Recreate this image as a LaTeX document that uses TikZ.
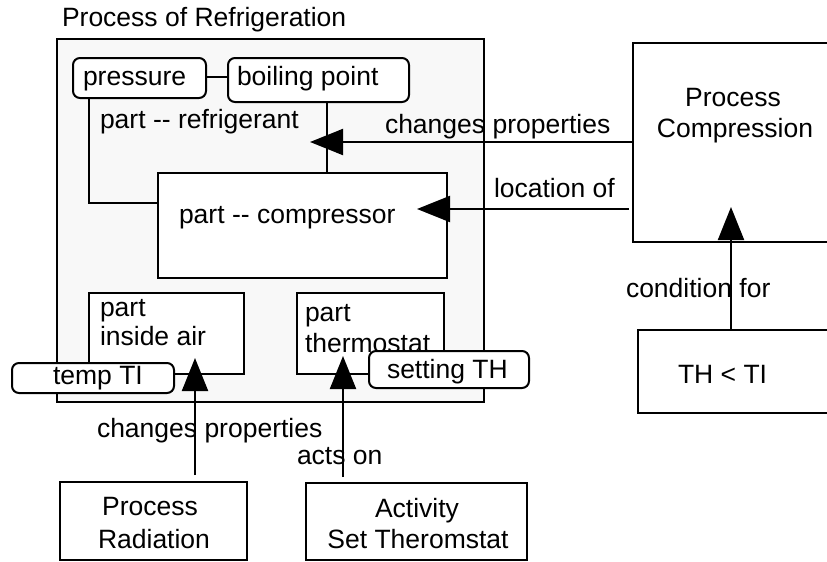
\documentclass[tikz,border=0pt]{standalone}
\usepackage{fontspec}
\setmainfont{Liberation Sans}
\usetikzlibrary{arrows.meta}
\definecolor{panel}{RGB}{248,248,248}
\newcommand\mybox[6]{\node[#6, anchor=north west, minimum width={#4-#2}, minimum height={#5-#3}] (#1) at (#2,#3) {};}
\begin{document}
\begin{tikzpicture}[x=1pt,y=-1pt,
  every node/.style={inner sep=0pt, outer sep=0pt},
  box/.style={draw, line width=2pt, fill=white, rectangle},
  rbox/.style={box, rounded corners=7pt},
  txt/.style={font=\fontsize{26.5}{30}\selectfont, anchor=base west},
  ctxt/.style={font=\fontsize{26.5}{30}\selectfont, anchor=base},
  conn/.style={line width=2pt},
  arr/.style={line width=2pt, -{Triangle[length=33pt,width=26pt]}}]
\useasboundingbox (0,0) rectangle (827,562);
\clip (0,0) rectangle (827,562);
\fill[white] (0,0) rectangle (827,562);

% title and outer process
\node[txt] (title) at (62,26) {Process of Refrigeration};
\mybox{outer}{57}{39}{484}{402}{box, fill=panel}

% inner connectors
\coordinate (pbend) at (89,203);
\draw[conn] (89,98) -- (pbend) -- (158,203);
\draw[conn] (327,102) -- (327,173);

% inner parts
\mybox{press}{73}{58}{206}{98}{rbox}
\mybox{boil}{228}{58}{409}{102}{rbox}
\draw[conn] (press.east) ++(0,-1) coordinate (pe) -- (boil.west |- pe);
\node[txt] (tpress) at (83,85) {pressure};
\node[txt] (tboil) at (237,85) {boiling point};
\node[txt] (trefr) at (100,128) {part -{}- refrigerant};

\mybox{comp}{158}{173}{447}{278}{box}
\node[txt] (tcomp) at (179,223) {part -{}- compressor};

\mybox{air}{89}{293}{244}{374}{box}
\node[txt] (tair1) at (100,316) {part};
\node[txt] (tair2) at (100,345) {inside air};
\mybox{therm}{297}{293}{444}{374}{box}
\node[txt] (tth1) at (305,321) {part};
\node[txt] (tth2) at (305,352) {thermostat};

\mybox{temp}{12}{363}{174}{393}{rbox}
\node[txt] (ttemp) at (53,384) {temp TI};
\mybox{set}{369}{351}{529}{388}{rbox}
\node[txt] (tset) at (387,378) {setting TH};

% outer boxes
\mybox{pc}{633}{43}{900}{242}{box}
\node[ctxt] (tpc1) at (733,106) {Process};
\node[ctxt] (tpc2) at (735,137) {Compression};
\mybox{th}{638}{330}{900}{413}{box}
\node[txt] (tth) at (678,383) {TH < TI};
\mybox{prad}{60}{482}{247}{560}{box}
\node[ctxt] (tprad1) at (150,515) {Process};
\node[ctxt] (tprad2) at (154,548) {Radiation};
\mybox{act}{306}{483}{527}{560}{box}
\node[ctxt] (tact1) at (417,517) {Activity};
\node[ctxt] (tact2) at (418,548) {Set Theromstat};

% labels
\node[txt] (l1) at (385,133) {changes properties};
\node[txt] (l2) at (494,197) {location of};
\node[txt] (l3) at (626,297) {condition for};
\node[txt] (l4) at (97,437) {changes properties};
\node[txt] (l5) at (297,464) {acts on};

% arrows
\coordinate (t1) at (310,142);
\draw[arr] (pc.west |- t1) -- (t1);
\coordinate (t2) at (417,209);
\coordinate (s2) at (629,209);
\draw[arr] (s2) -- (t2);
\coordinate (t3) at (731,207);
\draw[arr] (th.north -| t3) -- (t3);
\coordinate (t4) at (195,358);
\coordinate (s4) at (195,475);
\draw[arr] (s4) -- (t4);
\coordinate (t5) at (343,356);
\coordinate (s5) at (343,477);
\draw[arr] (s5) -- (t5);
\end{tikzpicture}
\end{document}
